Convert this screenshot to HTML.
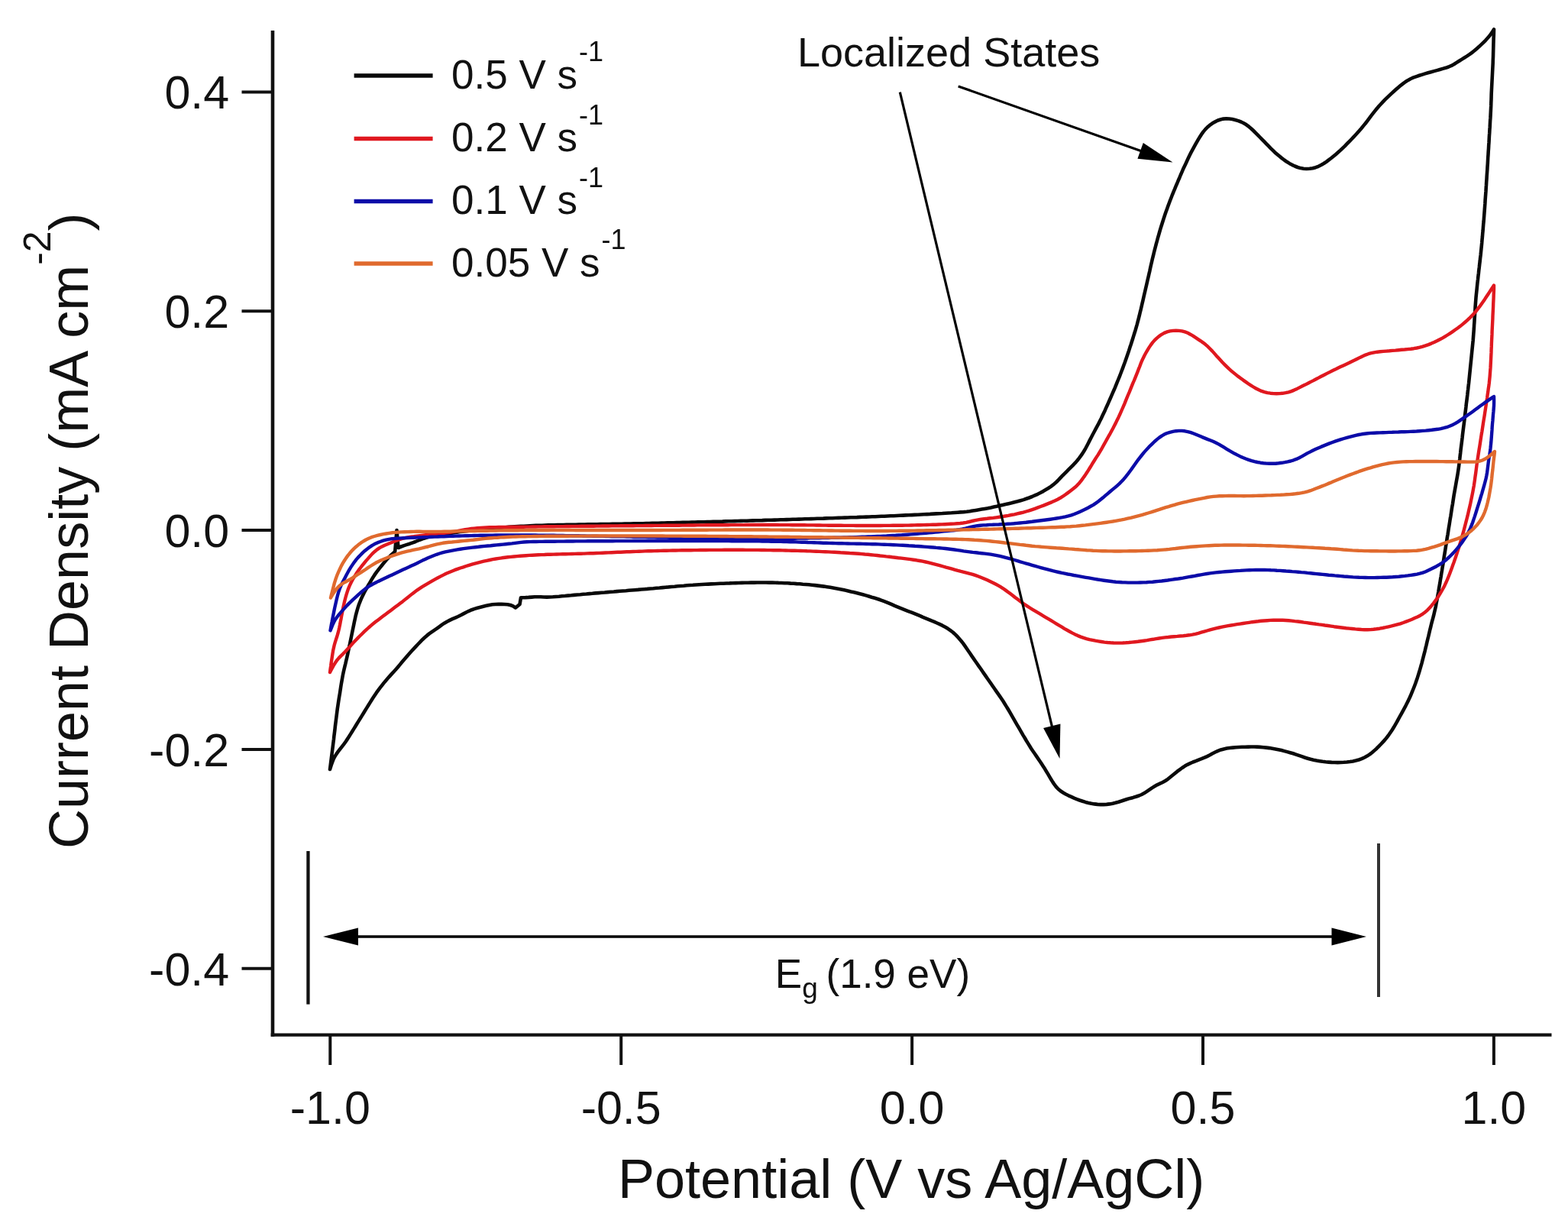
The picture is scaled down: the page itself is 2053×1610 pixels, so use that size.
<!DOCTYPE html>
<html><head><meta charset="utf-8"><title>Cyclic voltammetry</title>
<style>html,body{margin:0;padding:0;background:#fff;overflow:hidden}svg{display:block}</style>
</head><body>
<svg width="2053" height="1610" viewBox="0 0 2053 1610"><rect width="2053" height="1610" fill="#fff"/><path d="M432.0 1007.0 432.5 1003.0 433.0 999.1 433.5 995.1 434.0 991.1 434.5 987.2 435.0 983.2 435.5 979.2 436.0 975.2 436.5 971.3 437.0 967.3 437.4 963.3 437.9 959.4 438.4 955.4 438.8 951.4 439.3 947.4 439.8 943.5 440.3 939.5 440.8 935.5 441.3 931.6 441.8 927.6 442.4 923.6 443.0 919.7 443.6 915.7 444.2 911.8 444.9 907.8 445.5 903.9 446.1 899.9 446.7 896.0 447.4 892.0 448.1 888.1 448.8 884.1 449.6 880.2 450.5 876.3 451.4 872.4 452.4 868.5 453.3 864.6 454.2 860.8 455.1 856.8 455.9 852.9 456.7 849.0 457.6 845.1 458.4 841.2 459.2 837.3 460.0 833.4 460.8 829.4 461.6 825.5 462.4 821.6 463.2 817.7 464.0 813.8 464.9 809.8 465.7 805.9 466.7 802.1 467.8 798.2 468.9 794.4 470.2 790.6 471.7 786.9 473.2 783.2 474.9 779.6 476.7 776.0 478.6 772.5 480.6 769.0 482.6 765.5 484.6 762.1 486.6 758.6 488.7 755.2 490.9 751.9 493.2 748.6 495.7 745.4 498.1 742.3 500.6 739.2 503.2 736.1 505.8 733.1 508.5 730.1 511.3 727.3 514.2 724.6 517.2 721.9 L517.2 721.9 519.5 694.0 L519.5 694.0 521.5 717.0 L521.5 717.0 525.2 715.5 529.0 714.1 532.8 712.9 536.6 711.7 540.3 710.4 544.0 709.0 547.6 707.5 551.3 706.0 555.0 704.7 558.8 703.5 562.7 702.4 566.6 701.5 570.5 700.7 574.4 700.1 578.4 699.5 582.4 699.0 586.3 698.5 590.3 697.9 594.2 697.3 598.2 696.7 602.2 696.1 606.1 695.6 610.1 695.1 614.1 694.6 618.0 694.2 622.0 693.8 626.0 693.4 630.0 693.0 634.0 692.6 638.0 692.3 641.9 691.9 645.9 691.5 649.9 691.2 653.9 690.8 657.9 690.5 661.9 690.2 665.9 689.9 669.9 689.6 673.9 689.3 677.9 689.1 681.8 688.9 685.8 688.7 689.8 688.5 693.8 688.3 697.8 688.1 701.8 687.9 705.8 687.8 709.8 687.7 713.8 687.5 717.8 687.4 721.8 687.3 725.8 687.2 729.8 687.1 733.8 687.0 737.8 687.0 741.8 686.9 745.8 686.8 749.8 686.7 753.8 686.7 757.8 686.6 761.8 686.5 765.8 686.5 769.8 686.4 773.8 686.3 777.8 686.3 781.8 686.2 785.9 686.1 789.9 686.1 793.9 686.0 797.9 686.0 801.9 685.9 805.9 685.8 809.9 685.8 813.9 685.7 817.9 685.6 821.9 685.6 825.9 685.5 829.9 685.4 833.9 685.3 837.9 685.3 841.9 685.2 845.9 685.1 849.9 685.0 853.9 684.9 857.9 684.8 861.9 684.7 865.9 684.6 869.9 684.5 873.9 684.4 877.9 684.3 881.9 684.2 885.9 684.1 889.9 684.0 893.9 683.9 897.9 683.8 901.9 683.7 905.9 683.6 909.9 683.5 913.9 683.4 917.9 683.3 921.9 683.2 925.9 683.1 929.9 683.0 933.9 682.9 937.9 682.8 941.9 682.7 945.9 682.6 949.9 682.4 953.9 682.3 957.9 682.2 961.9 682.1 965.9 682.0 969.9 681.9 973.9 681.8 977.9 681.7 981.9 681.5 985.9 681.4 989.9 681.3 993.9 681.2 997.9 681.1 1001.9 680.9 1005.9 680.8 1009.9 680.7 1013.9 680.6 1017.9 680.5 1021.9 680.3 1025.9 680.2 1029.9 680.1 1033.9 680.0 1037.9 679.8 1041.9 679.7 1045.9 679.6 1049.9 679.5 1053.9 679.3 1057.9 679.2 1061.9 679.1 1065.9 679.0 1069.9 678.8 1073.9 678.7 1077.9 678.6 1081.9 678.4 1085.9 678.3 1089.9 678.2 1093.9 678.0 1097.9 677.9 1101.9 677.8 1105.9 677.6 1109.9 677.5 1113.9 677.3 1117.9 677.2 1121.9 677.1 1125.9 676.9 1129.9 676.8 1133.9 676.6 1137.9 676.5 1141.9 676.3 1145.9 676.2 1149.9 676.0 1153.9 675.8 1157.9 675.7 1161.9 675.5 1165.9 675.3 1169.9 675.2 1173.9 675.0 1177.9 674.8 1181.9 674.6 1185.9 674.4 1189.8 674.3 1193.8 674.1 1197.8 673.9 1201.8 673.7 1205.8 673.5 1209.8 673.3 1213.8 673.1 1217.8 672.9 1221.8 672.6 1225.8 672.4 1229.8 672.2 1233.8 672.0 1237.8 671.7 1241.8 671.5 1245.8 671.3 1249.8 671.0 1253.8 670.7 1257.8 670.4 1261.8 670.1 1265.7 669.7 1269.7 669.2 1273.7 668.6 1277.6 668.0 1281.6 667.3 1285.5 666.6 1289.4 665.9 1293.4 665.2 1297.3 664.4 1301.2 663.5 1305.1 662.7 1309.0 661.8 1312.9 660.9 1316.8 660.1 1320.7 659.2 1324.6 658.3 1328.5 657.3 1332.4 656.3 1336.2 655.2 1340.1 654.1 1343.9 652.8 1347.6 651.5 1351.4 650.0 1355.0 648.4 1358.7 646.8 1362.2 645.0 1365.8 643.1 1369.2 641.1 1372.6 639.0 1375.9 636.8 1379.1 634.4 1382.2 631.8 1385.1 629.0 1387.8 626.1 1390.6 623.2 1393.4 620.4 1396.2 617.6 1399.1 614.7 1401.9 611.9 1404.7 609.1 1407.5 606.2 1410.1 603.2 1412.6 600.1 1415.0 596.9 1417.3 593.6 1419.4 590.2 1421.4 586.8 1423.3 583.2 1425.1 579.7 1426.9 576.1 1428.8 572.5 1430.6 569.0 1432.5 565.5 1434.4 561.9 1436.3 558.4 1438.2 554.9 1440.0 551.3 1441.8 547.7 1443.5 544.1 1445.2 540.5 1446.9 536.9 1448.5 533.2 1450.2 529.6 1451.8 525.9 1453.4 522.3 1455.0 518.6 1456.6 514.9 1458.2 511.3 1459.8 507.6 1461.3 503.9 1462.8 500.2 1464.3 496.5 1465.8 492.8 1467.3 489.0 1468.7 485.3 1470.1 481.6 1471.5 477.8 1472.9 474.0 1474.2 470.2 1475.5 466.5 1476.8 462.7 1478.1 458.9 1479.3 455.1 1480.6 451.3 1481.8 447.5 1483.0 443.7 1484.2 439.9 1485.4 436.0 1486.6 432.2 1487.7 428.4 1488.8 424.5 1489.8 420.6 1490.8 416.8 1491.8 412.9 1492.7 409.0 1493.7 405.1 1494.6 401.2 1495.5 397.3 1496.4 393.4 1497.3 389.5 1498.2 385.6 1499.1 381.7 1500.0 377.8 1500.9 373.9 1501.8 370.0 1502.7 366.1 1503.6 362.2 1504.5 358.3 1505.4 354.4 1506.2 350.5 1507.1 346.6 1508.0 342.7 1508.9 338.8 1509.9 334.9 1510.8 331.0 1511.8 327.2 1512.8 323.3 1513.8 319.4 1514.9 315.5 1515.9 311.7 1517.0 307.8 1518.1 304.0 1519.2 300.2 1520.4 296.3 1521.6 292.5 1522.8 288.7 1524.0 284.9 1525.3 281.1 1526.6 277.3 1528.0 273.5 1529.3 269.8 1530.7 266.0 1532.1 262.3 1533.6 258.5 1535.0 254.8 1536.5 251.1 1538.1 247.4 1539.6 243.7 1541.2 240.0 1542.7 236.3 1544.3 232.7 1545.8 229.0 1547.4 225.3 1549.0 221.6 1550.7 218.0 1552.4 214.4 1554.1 210.7 1555.8 207.1 1557.5 203.5 1559.3 199.9 1561.2 196.4 1563.1 192.9 1565.0 189.4 1567.0 185.9 1569.0 182.4 1571.1 179.0 1573.2 175.7 1575.6 172.4 1578.1 169.4 1580.9 166.5 1583.9 163.9 1587.2 161.6 1590.6 159.6 1594.1 157.8 1597.9 156.5 1601.7 155.6 1605.6 155.3 1609.6 155.5 1613.5 156.1 1617.4 157.0 1621.2 158.1 1624.9 159.5 1628.5 161.3 1631.9 163.3 1635.1 165.7 1638.1 168.2 1641.1 171.0 1643.9 173.8 1646.7 176.6 1649.5 179.5 1652.3 182.3 1655.1 185.2 1657.9 188.1 1660.7 190.9 1663.5 193.8 1666.4 196.6 1669.2 199.4 1672.2 202.0 1675.3 204.6 1678.4 207.1 1681.6 209.5 1684.9 211.8 1688.3 213.9 1691.8 215.8 1695.4 217.5 1699.1 219.0 1702.9 220.1 1706.8 220.7 1710.7 221.0 1714.7 220.8 1718.6 220.2 1722.5 219.2 1726.2 217.8 1729.7 216.0 1733.2 214.0 1736.5 211.8 1739.7 209.4 1742.9 207.0 1746.0 204.5 1749.1 201.9 1752.1 199.3 1755.1 196.6 1758.0 193.8 1760.9 191.1 1763.7 188.2 1766.5 185.4 1769.3 182.5 1772.0 179.6 1774.7 176.7 1777.4 173.7 1780.1 170.7 1782.7 167.7 1785.2 164.6 1787.8 161.5 1790.2 158.3 1792.6 155.1 1795.0 151.9 1797.5 148.7 1799.9 145.6 1802.4 142.5 1805.0 139.4 1807.7 136.5 1810.4 133.6 1813.2 130.7 1816.1 127.9 1819.0 125.1 1821.9 122.4 1824.8 119.7 1827.8 117.0 1830.8 114.4 1833.9 111.8 1837.1 109.4 1840.3 107.0 1843.7 104.9 1847.2 103.0 1850.8 101.4 1854.6 100.1 1858.4 98.8 1862.2 97.6 1866.0 96.4 1869.8 95.3 1873.7 94.2 1877.6 93.1 1881.4 92.1 1885.3 91.0 1889.1 89.9 1893.0 88.8 1896.7 87.5 1900.4 85.9 1903.9 84.0 1907.2 81.9 1910.6 79.7 1914.0 77.6 1917.4 75.5 1920.8 73.4 1924.1 71.2 1927.3 68.8 1930.5 66.3 1933.5 63.7 1936.5 61.1 1939.4 58.4 1942.3 55.6 1945.1 52.8 1947.8 49.8 1950.4 46.8 1952.7 43.5 1954.9 40.2 1956.0 38.5 L1956.0 38.5 1955.9 42.5 1955.8 46.5 1955.6 50.5 1955.5 54.5 1955.4 58.5 1955.3 62.5 1955.2 66.5 1955.1 70.5 1955.0 74.5 1954.8 78.5 1954.7 82.5 1954.5 86.5 1954.3 90.5 1954.1 94.5 1953.9 98.5 1953.7 102.5 1953.5 106.5 1953.3 110.4 1953.1 114.4 1952.9 118.4 1952.7 122.4 1952.6 126.4 1952.5 130.4 1952.3 134.4 1952.2 138.4 1952.0 142.4 1951.8 146.4 1951.6 150.4 1951.4 154.4 1951.1 158.4 1950.9 162.4 1950.7 166.4 1950.4 170.4 1950.2 174.4 1949.9 178.4 1949.7 182.4 1949.5 186.4 1949.2 190.3 1949.0 194.3 1948.7 198.3 1948.5 202.3 1948.2 206.3 1948.0 210.3 1947.8 214.3 1947.5 218.3 1947.3 222.3 1947.0 226.3 1946.7 230.3 1946.5 234.3 1946.2 238.3 1946.0 242.2 1945.7 246.2 1945.5 250.2 1945.2 254.2 1944.9 258.2 1944.6 262.2 1944.4 266.2 1944.1 270.2 1943.8 274.2 1943.5 278.2 1943.2 282.2 1942.9 286.1 1942.6 290.1 1942.2 294.1 1941.9 298.1 1941.6 302.1 1941.2 306.1 1940.9 310.1 1940.5 314.0 1940.2 318.0 1939.8 322.0 1939.4 326.0 1939.0 330.0 1938.6 334.0 1938.1 337.9 1937.7 341.9 1937.2 345.9 1936.8 349.8 1936.3 353.8 1935.9 357.8 1935.4 361.8 1935.0 365.7 1934.5 369.7 1934.1 373.7 1933.7 377.7 1933.3 381.7 1932.9 385.6 1932.5 389.6 1932.2 393.6 1931.9 397.6 1931.6 401.6 1931.4 405.6 1931.1 409.6 1930.9 413.6 1930.6 417.6 1930.4 421.6 1930.1 425.5 1929.9 429.5 1929.6 433.5 1929.3 437.5 1929.0 441.5 1928.7 445.5 1928.3 449.5 1927.9 453.5 1927.5 457.4 1927.1 461.4 1926.7 465.4 1926.3 469.4 1925.9 473.4 1925.5 477.3 1925.1 481.3 1924.7 485.3 1924.3 489.3 1923.9 493.3 1923.5 497.2 1923.1 501.2 1922.6 505.2 1922.2 509.2 1921.7 513.1 1921.3 517.1 1920.8 521.1 1920.3 525.1 1919.8 529.0 1919.4 533.0 1918.9 537.0 1918.4 540.9 1917.9 544.9 1917.5 548.9 1917.0 552.9 1916.5 556.8 1916.0 560.8 1915.5 564.8 1915.0 568.7 1914.6 572.7 1914.1 576.7 1913.6 580.7 1913.1 584.6 1912.6 588.6 1912.2 592.6 1911.7 596.6 1911.3 600.5 1910.8 604.5 1910.3 608.5 1909.8 612.4 1909.2 616.4 1908.6 620.3 1907.9 624.3 1907.2 628.2 1906.5 632.2 1905.8 636.1 1905.1 640.0 1904.4 644.0 1903.7 647.9 1903.1 651.9 1902.5 655.8 1901.9 659.8 1901.2 663.7 1900.6 667.7 1900.0 671.6 1899.4 675.6 1898.7 679.5 1898.1 683.5 1897.5 687.4 1896.8 691.4 1896.2 695.3 1895.6 699.3 1894.9 703.2 1894.3 707.2 1893.7 711.1 1893.0 715.1 1892.4 719.0 1891.8 723.0 1891.1 726.9 1890.5 730.9 1889.9 734.8 1889.3 738.8 1888.6 742.7 1888.0 746.7 1887.3 750.6 1886.7 754.6 1886.0 758.5 1885.4 762.5 1884.7 766.4 1884.0 770.3 1883.4 774.3 1882.7 778.2 1882.0 782.2 1881.3 786.1 1880.5 790.0 1879.8 794.0 1878.9 797.9 1878.0 801.8 1877.1 805.7 1876.1 809.5 1875.0 813.4 1874.0 817.3 1873.1 821.1 1872.1 825.0 1871.2 828.9 1870.3 832.8 1869.3 836.7 1868.4 840.6 1867.5 844.5 1866.5 848.4 1865.6 852.3 1864.6 856.1 1863.6 860.0 1862.6 863.9 1861.6 867.8 1860.5 871.6 1859.4 875.5 1858.3 879.3 1857.1 883.1 1855.9 886.9 1854.6 890.7 1853.3 894.5 1851.9 898.2 1850.4 902.0 1848.9 905.7 1847.4 909.3 1845.8 913.0 1844.1 916.6 1842.3 920.2 1840.5 923.8 1838.6 927.3 1836.7 930.8 1834.8 934.3 1832.8 937.8 1830.9 941.3 1829.0 944.9 1827.0 948.3 1825.0 951.8 1822.9 955.2 1820.7 958.5 1818.4 961.8 1816.0 965.0 1813.5 968.1 1810.8 971.1 1808.1 974.0 1805.3 976.9 1802.5 979.7 1799.5 982.4 1796.5 985.0 1793.4 987.4 1790.0 989.6 1786.5 991.5 1782.9 993.2 1779.2 994.5 1775.3 995.5 1771.4 996.4 1767.5 997.0 1763.5 997.5 1759.5 997.8 1755.5 998.0 1751.5 998.1 1747.5 998.0 1743.5 997.9 1739.6 997.6 1735.6 997.3 1731.6 996.8 1727.7 996.2 1723.7 995.5 1719.8 994.7 1715.9 993.8 1712.1 992.7 1708.2 991.5 1704.5 990.2 1700.7 988.9 1696.9 987.6 1693.1 986.3 1689.3 985.2 1685.4 984.1 1681.6 983.1 1677.7 982.1 1673.8 981.2 1669.9 980.4 1665.9 979.7 1662.0 979.1 1658.0 978.6 1654.0 978.2 1650.1 977.9 1646.1 977.6 1642.1 977.5 1638.1 977.5 1634.1 977.6 1630.1 977.7 1626.1 977.8 1622.1 978.0 1618.1 978.3 1614.1 978.6 1610.1 979.0 1606.2 979.6 1602.3 980.4 1598.4 981.4 1594.7 982.8 1591.1 984.5 1587.6 986.3 1584.1 988.3 1580.5 990.1 1576.9 991.7 1573.2 993.2 1569.4 994.6 1565.7 996.1 1562.0 997.5 1558.3 999.1 1554.7 1000.8 1551.2 1002.8 1547.9 1005.0 1544.7 1007.3 1541.5 1009.7 1538.4 1012.3 1535.3 1014.8 1532.2 1017.3 1529.1 1019.8 1525.8 1022.0 1522.3 1024.0 1518.7 1025.7 1515.1 1027.3 1511.7 1029.3 1508.3 1031.4 1505.0 1033.7 1501.7 1035.9 1498.3 1038.1 1494.8 1040.0 1491.2 1041.5 1487.4 1042.8 1483.6 1043.9 1479.7 1044.9 1475.9 1046.0 1472.1 1047.2 1468.3 1048.5 1464.5 1049.7 1460.6 1050.8 1456.8 1051.7 1452.8 1052.4 1448.9 1052.9 1444.9 1053.1 1440.9 1053.1 1436.9 1052.9 1432.9 1052.4 1429.0 1051.8 1425.1 1050.9 1421.2 1049.9 1417.4 1048.7 1413.6 1047.5 1409.9 1046.1 1406.2 1044.6 1402.5 1042.9 1398.9 1041.3 1395.3 1039.5 1391.9 1037.5 1388.5 1035.3 1385.5 1032.8 1382.8 1029.9 1380.4 1026.7 1378.2 1023.4 1376.1 1020.0 1374.1 1016.6 1372.1 1013.1 1370.0 1009.7 1368.0 1006.3 1365.8 1002.9 1363.6 999.5 1361.4 996.2 1359.1 992.9 1356.9 989.6 1354.6 986.3 1352.3 983.0 1350.1 979.7 1348.0 976.3 1345.9 972.9 1343.8 969.5 1341.8 966.0 1339.7 962.6 1337.7 959.1 1335.7 955.7 1333.7 952.2 1331.7 948.8 1329.7 945.3 1327.7 941.8 1325.7 938.4 1323.7 934.9 1321.7 931.4 1319.7 928.0 1317.6 924.6 1315.5 921.2 1313.4 917.8 1311.2 914.5 1308.9 911.1 1306.6 907.9 1304.3 904.6 1302.0 901.3 1299.7 898.0 1297.5 894.8 1295.2 891.5 1292.9 888.2 1290.6 884.9 1288.3 881.6 1286.0 878.3 1283.8 875.0 1281.5 871.8 1279.2 868.5 1276.9 865.2 1274.6 861.9 1272.3 858.6 1270.1 855.3 1267.8 852.0 1265.6 848.7 1263.3 845.4 1261.0 842.2 1258.5 839.0 1255.9 836.0 1253.3 833.0 1250.4 830.2 1247.5 827.5 1244.3 825.1 1241.0 822.8 1237.6 820.8 1234.1 818.9 1230.5 817.2 1226.8 815.5 1223.2 813.9 1219.5 812.4 1215.8 810.8 1212.1 809.3 1208.4 807.8 1204.7 806.2 1201.0 804.7 1197.3 803.2 1193.6 801.7 1189.9 800.3 1186.1 798.8 1182.4 797.3 1178.7 795.8 1175.0 794.3 1171.3 792.8 1167.6 791.2 1164.0 789.6 1160.3 788.1 1156.5 786.7 1152.8 785.3 1149.0 784.0 1145.2 782.8 1141.3 781.7 1137.5 780.5 1133.7 779.4 1129.8 778.3 1125.9 777.3 1122.1 776.3 1118.2 775.3 1114.3 774.4 1110.4 773.4 1106.5 772.6 1102.6 771.7 1098.7 770.9 1094.7 770.2 1090.8 769.5 1086.9 768.8 1082.9 768.2 1079.0 767.6 1075.0 767.1 1071.0 766.6 1067.1 766.1 1063.1 765.7 1059.1 765.3 1055.1 765.0 1051.1 764.7 1047.1 764.3 1043.1 764.1 1039.2 763.8 1035.2 763.6 1031.2 763.3 1027.2 763.2 1023.2 763.0 1019.2 762.9 1015.2 762.7 1011.2 762.6 1007.2 762.6 1003.2 762.5 999.2 762.5 995.2 762.5 991.2 762.5 987.2 762.6 983.2 762.6 979.2 762.7 975.2 762.8 971.2 762.9 967.2 763.0 963.2 763.1 959.2 763.2 955.2 763.4 951.2 763.5 947.2 763.7 943.2 763.8 939.2 764.0 935.2 764.2 931.2 764.4 927.2 764.6 923.2 764.8 919.2 765.0 915.2 765.2 911.2 765.5 907.2 765.8 903.3 766.0 899.3 766.3 895.3 766.7 891.3 767.0 887.3 767.3 883.3 767.7 879.3 768.0 875.4 768.4 871.4 768.7 867.4 769.1 863.4 769.5 859.4 769.8 855.4 770.2 851.4 770.5 847.5 770.9 843.5 771.2 839.5 771.5 835.5 771.9 831.5 772.2 827.5 772.5 823.5 772.8 819.6 773.2 815.6 773.5 811.6 773.8 807.6 774.1 803.6 774.5 799.6 774.8 795.6 775.1 791.6 775.5 787.7 775.8 783.7 776.1 779.7 776.4 775.7 776.8 771.7 777.1 767.7 777.5 763.7 777.8 759.8 778.2 755.8 778.5 751.8 778.9 747.8 779.3 743.8 779.6 739.8 780.0 735.9 780.3 731.9 780.7 727.9 781.0 723.9 781.3 719.9 781.5 715.9 781.6 711.9 781.5 707.9 781.3 704.0 781.2 700.0 781.3 696.0 781.6 692.0 781.9 688.0 782.1 684.0 782.2 682.0 782.2 L682.0 782.2 680.5 791.0 L680.5 791.0 675.0 795.5 L675.0 795.5 671.8 793.4 668.3 792.0 664.5 791.3 660.5 791.0 656.6 790.9 652.6 790.9 648.6 791.0 644.6 791.3 640.7 791.9 636.8 792.8 632.9 793.7 629.1 794.7 625.2 795.7 621.4 796.9 617.6 798.2 613.9 799.8 610.4 801.5 606.8 803.4 603.3 805.2 599.7 807.0 596.1 808.6 592.4 810.2 588.8 811.9 585.2 813.7 581.8 815.7 578.5 817.9 575.2 820.3 572.0 822.6 568.7 824.8 565.4 827.1 562.1 829.4 559.0 831.9 556.0 834.5 553.1 837.2 550.3 840.1 547.5 843.0 544.8 845.9 542.0 848.8 539.3 851.7 536.6 854.7 534.0 857.7 531.4 860.7 528.8 863.7 526.2 866.8 523.7 869.9 521.1 873.0 518.5 876.0 515.8 879.0 513.1 881.9 510.4 884.9 507.8 887.8 505.1 890.9 502.6 893.9 500.1 897.1 497.7 900.2 495.3 903.4 492.9 906.7 490.7 910.0 488.5 913.3 486.3 916.7 484.2 920.1 482.1 923.5 480.0 926.9 477.9 930.3 475.8 933.7 473.7 937.1 471.6 940.5 469.5 943.9 467.4 947.3 465.3 950.7 463.2 954.1 461.1 957.5 459.0 960.9 456.9 964.3 454.7 967.6 452.5 971.0 450.2 974.2 447.7 977.4 445.2 980.5 442.8 983.6 440.5 986.9 438.4 990.3 436.6 993.8 435.2 997.5 433.8 1001.3 432.6 1005.1 432.0 1007.0" fill="none" stroke="#0a0a0a" stroke-width="4.6" stroke-linejoin="round" stroke-linecap="round"/><path d="M432.0 880.0 432.5 876.0 433.1 872.1 433.6 868.1 434.2 864.1 434.8 860.2 435.4 856.2 436.0 852.3 436.8 848.4 437.7 844.5 438.8 840.6 440.0 836.8 441.3 833.0 442.4 829.2 443.4 825.3 444.3 821.4 445.1 817.5 445.8 813.6 446.6 809.7 447.3 805.7 448.1 801.8 448.8 797.9 449.6 793.9 450.5 790.0 451.4 786.1 452.4 782.3 453.5 778.4 454.7 774.6 456.0 770.8 457.5 767.1 459.2 763.5 461.0 760.0 463.0 756.5 465.1 753.1 467.2 749.7 469.5 746.4 471.9 743.2 474.3 740.1 476.9 737.0 479.4 733.9 482.1 730.9 484.7 727.9 487.4 724.9 490.3 722.2 493.4 719.6 496.6 717.4 500.1 715.4 503.7 713.7 507.4 712.2 511.1 710.8 514.8 709.3 518.6 707.8 522.3 706.4 526.1 705.2 529.9 704.2 533.9 703.4 537.8 702.7 541.8 702.2 545.7 701.6 549.7 701.1 553.7 700.6 557.6 700.1 561.6 699.7 565.6 699.3 569.6 698.9 573.6 698.5 577.5 698.1 581.5 697.7 585.5 697.3 589.5 696.7 593.4 696.1 597.3 695.4 601.3 694.6 605.2 693.9 609.1 693.2 613.1 692.6 617.1 692.0 621.0 691.6 625.0 691.2 629.0 690.9 633.0 690.7 637.0 690.5 641.0 690.3 645.0 690.2 649.0 690.1 653.0 690.0 657.0 690.0 661.0 689.9 665.0 689.9 669.0 689.8 673.0 689.8 677.0 689.8 681.0 689.7 685.0 689.7 689.0 689.6 693.0 689.6 697.0 689.5 701.0 689.5 705.0 689.4 709.0 689.4 713.0 689.3 717.0 689.3 721.0 689.2 725.0 689.2 729.0 689.1 733.0 689.1 737.0 689.1 741.0 689.0 745.0 689.0 749.0 688.9 753.0 688.9 757.0 688.9 761.0 688.8 765.0 688.8 769.0 688.7 773.0 688.7 777.0 688.7 781.0 688.6 785.0 688.6 789.0 688.5 793.0 688.5 797.0 688.5 801.0 688.4 805.0 688.4 809.0 688.4 813.0 688.3 817.0 688.3 821.0 688.2 825.0 688.2 829.0 688.2 833.0 688.1 837.0 688.1 841.1 688.1 845.1 688.0 849.1 688.0 853.1 688.0 857.1 687.9 861.1 687.9 865.1 687.9 869.1 687.8 873.1 687.8 877.1 687.8 881.1 687.7 885.1 687.7 889.1 687.7 893.1 687.6 897.1 687.6 901.1 687.5 905.1 687.5 909.1 687.5 913.1 687.4 917.1 687.4 921.1 687.4 925.1 687.3 929.1 687.3 933.1 687.3 937.1 687.3 941.1 687.2 945.1 687.2 949.1 687.2 953.1 687.2 957.1 687.1 961.1 687.1 965.1 687.1 969.1 687.1 973.1 687.1 977.1 687.0 981.1 687.0 985.1 687.0 989.1 687.0 993.1 687.0 997.1 687.0 1001.1 687.0 1005.1 687.0 1009.1 687.0 1013.1 687.0 1017.1 687.0 1021.1 687.1 1025.1 687.1 1029.1 687.1 1033.1 687.1 1037.1 687.2 1041.1 687.2 1045.1 687.2 1049.1 687.3 1053.1 687.3 1057.1 687.4 1061.1 687.4 1065.1 687.4 1069.1 687.5 1073.1 687.5 1077.1 687.6 1081.1 687.6 1085.1 687.7 1089.1 687.7 1093.1 687.7 1097.1 687.8 1101.1 687.8 1105.1 687.9 1109.1 687.9 1113.1 687.9 1117.1 687.9 1121.1 688.0 1125.1 688.0 1129.1 688.0 1133.1 688.0 1137.1 688.0 1141.1 688.0 1145.1 688.0 1149.1 688.0 1153.1 688.0 1157.2 687.9 1161.2 687.9 1165.2 687.9 1169.2 687.8 1173.2 687.8 1177.2 687.7 1181.2 687.7 1185.2 687.6 1189.2 687.6 1193.2 687.5 1197.2 687.4 1201.2 687.3 1205.2 687.2 1209.2 687.1 1213.2 687.0 1217.2 686.9 1221.2 686.8 1225.2 686.7 1229.2 686.5 1233.2 686.4 1237.2 686.2 1241.2 686.0 1245.1 685.8 1249.1 685.6 1253.1 685.3 1257.1 685.0 1261.1 684.5 1265.0 683.8 1268.9 683.0 1272.8 682.0 1276.7 681.1 1280.6 680.4 1284.6 679.7 1288.5 679.2 1292.5 678.8 1296.5 678.3 1300.5 677.9 1304.4 677.4 1308.4 676.8 1312.3 676.2 1316.3 675.5 1320.2 674.8 1324.1 674.0 1328.1 673.3 1332.0 672.4 1335.9 671.5 1339.8 670.6 1343.6 669.5 1347.5 668.4 1351.3 667.1 1355.0 665.8 1358.8 664.4 1362.5 663.0 1366.3 661.6 1370.0 660.1 1373.7 658.6 1377.4 657.1 1381.0 655.5 1384.7 653.7 1388.2 651.8 1391.6 649.7 1394.8 647.5 1398.1 645.1 1401.3 642.7 1404.5 640.3 1407.6 637.8 1410.5 635.1 1413.2 632.2 1415.7 629.1 1418.1 625.8 1420.4 622.6 1422.6 619.3 1424.8 615.9 1426.9 612.5 1429.0 609.1 1431.0 605.7 1433.2 602.3 1435.3 598.9 1437.5 595.6 1439.6 592.2 1441.7 588.7 1443.6 585.2 1445.6 581.7 1447.5 578.2 1449.5 574.7 1451.4 571.2 1453.4 567.8 1455.3 564.2 1457.2 560.7 1459.0 557.2 1460.9 553.6 1462.6 550.0 1464.4 546.4 1466.1 542.8 1467.7 539.2 1469.3 535.5 1470.9 531.8 1472.5 528.1 1474.0 524.4 1475.5 520.7 1477.0 517.0 1478.6 513.3 1480.1 509.6 1481.6 505.9 1483.1 502.2 1484.7 498.5 1486.2 494.8 1487.7 491.1 1489.2 487.4 1490.6 483.7 1492.1 480.0 1493.5 476.2 1495.0 472.5 1496.7 468.9 1498.5 465.3 1500.4 461.8 1502.4 458.3 1504.5 454.9 1506.7 451.6 1509.1 448.4 1511.7 445.4 1514.6 442.7 1517.6 440.1 1520.9 437.8 1524.3 435.9 1528.0 434.4 1531.8 433.4 1535.7 432.9 1539.7 432.7 1543.7 432.9 1547.6 433.4 1551.4 434.4 1555.1 435.8 1558.6 437.7 1562.0 439.7 1565.4 441.9 1568.7 444.1 1572.1 446.3 1575.3 448.6 1578.5 451.1 1581.5 453.7 1584.3 456.5 1587.1 459.4 1589.8 462.4 1592.4 465.4 1595.1 468.3 1597.8 471.3 1600.5 474.3 1603.3 477.1 1606.1 479.9 1609.0 482.7 1612.0 485.3 1615.1 487.9 1618.2 490.4 1621.4 492.9 1624.6 495.2 1627.8 497.6 1631.1 499.9 1634.4 502.2 1637.7 504.4 1641.1 506.5 1644.5 508.5 1648.1 510.3 1651.7 511.9 1655.5 513.1 1659.4 514.1 1663.3 514.7 1667.3 515.1 1671.3 515.2 1675.3 515.1 1679.3 514.8 1683.2 514.2 1687.1 513.3 1690.9 512.1 1694.5 510.6 1698.2 508.9 1701.7 507.1 1705.3 505.3 1708.9 503.6 1712.5 501.8 1716.0 499.9 1719.6 498.1 1723.1 496.2 1726.7 494.4 1730.2 492.5 1733.8 490.7 1737.3 488.9 1740.9 487.1 1744.5 485.3 1748.1 483.6 1751.7 481.8 1755.3 480.1 1758.9 478.4 1762.6 476.7 1766.2 475.0 1769.8 473.2 1773.4 471.5 1777.0 469.7 1780.6 467.9 1784.2 466.2 1787.8 464.6 1791.6 463.2 1795.4 462.2 1799.3 461.3 1803.2 460.7 1807.2 460.3 1811.2 459.9 1815.2 459.6 1819.2 459.3 1823.2 458.9 1827.1 458.6 1831.1 458.2 1835.1 457.8 1839.1 457.5 1843.1 457.1 1847.1 456.7 1851.0 456.2 1855.0 455.5 1858.9 454.7 1862.7 453.6 1866.5 452.4 1870.3 451.1 1874.0 449.6 1877.7 448.0 1881.3 446.3 1884.8 444.5 1888.4 442.6 1891.8 440.6 1895.2 438.5 1898.6 436.3 1901.9 434.1 1905.2 431.8 1908.5 429.5 1911.7 427.1 1914.8 424.6 1917.9 422.0 1920.9 419.4 1923.8 416.7 1926.6 413.9 1929.4 411.0 1932.0 408.0 1934.5 404.9 1937.0 401.7 1939.3 398.4 1941.6 395.2 1943.9 391.9 1946.1 388.5 1948.3 385.2 1950.5 381.9 1952.7 378.5 1954.9 375.2 1956.0 373.5 L1956.0 373.5 1956.0 377.5 1955.9 381.5 1955.7 385.5 1955.6 389.5 1955.4 393.5 1955.2 397.5 1955.1 401.5 1954.9 405.5 1954.7 409.5 1954.5 413.5 1954.4 417.5 1954.2 421.4 1954.0 425.4 1953.8 429.4 1953.6 433.4 1953.5 437.4 1953.3 441.4 1953.1 445.4 1952.9 449.4 1952.8 453.4 1952.6 457.4 1952.5 461.4 1952.3 465.4 1952.1 469.4 1951.9 473.4 1951.7 477.4 1951.5 481.4 1951.2 485.4 1950.9 489.3 1950.6 493.3 1950.2 497.3 1949.8 501.3 1949.3 505.2 1948.7 509.2 1948.2 513.2 1947.6 517.1 1947.1 521.1 1946.5 525.0 1945.9 529.0 1945.3 533.0 1944.7 536.9 1944.1 540.9 1943.5 544.8 1942.8 548.8 1942.2 552.7 1941.6 556.7 1941.0 560.6 1940.4 564.6 1939.7 568.5 1939.1 572.5 1938.5 576.4 1937.9 580.4 1937.3 584.3 1936.6 588.3 1936.0 592.2 1935.4 596.2 1934.8 600.1 1934.2 604.1 1933.6 608.0 1933.1 612.0 1932.6 616.0 1932.1 619.9 1931.5 623.9 1931.0 627.8 1930.4 631.8 1929.8 635.8 1929.1 639.7 1928.4 643.6 1927.6 647.6 1926.8 651.5 1926.0 655.4 1925.2 659.3 1924.3 663.2 1923.4 667.1 1922.5 671.0 1921.6 674.9 1920.6 678.8 1919.6 682.6 1918.6 686.5 1917.6 690.4 1916.6 694.2 1915.5 698.1 1914.4 701.9 1913.3 705.8 1912.2 709.6 1911.0 713.5 1909.9 717.3 1908.6 721.1 1907.4 724.9 1906.1 728.7 1904.8 732.4 1903.5 736.2 1902.1 740.0 1900.8 743.7 1899.4 747.5 1898.0 751.2 1896.5 755.0 1895.0 758.7 1893.4 762.3 1891.7 765.9 1889.9 769.5 1887.9 773.0 1885.9 776.4 1883.8 779.8 1881.6 783.2 1879.3 786.4 1876.9 789.6 1874.4 792.7 1871.7 795.7 1869.0 798.6 1866.0 801.2 1862.8 803.6 1859.4 805.7 1855.9 807.5 1852.2 809.1 1848.6 810.7 1844.8 812.2 1841.1 813.6 1837.4 815.0 1833.6 816.3 1829.7 817.4 1825.9 818.4 1822.0 819.4 1818.1 820.3 1814.2 821.2 1810.3 822.0 1806.4 822.7 1802.4 823.3 1798.4 823.8 1794.5 824.1 1790.5 824.2 1786.5 824.2 1782.5 824.0 1778.5 823.7 1774.5 823.4 1770.5 823.0 1766.6 822.6 1762.6 822.2 1758.6 821.7 1754.6 821.2 1750.7 820.7 1746.7 820.2 1742.8 819.6 1738.8 819.0 1734.8 818.5 1730.9 817.9 1726.9 817.4 1723.0 816.8 1719.0 816.3 1715.0 815.7 1711.1 815.1 1707.1 814.6 1703.2 814.0 1699.2 813.5 1695.2 813.1 1691.2 812.6 1687.3 812.3 1683.3 812.0 1679.3 811.8 1675.3 811.7 1671.3 811.6 1667.3 811.7 1663.3 811.9 1659.3 812.2 1655.3 812.5 1651.3 812.8 1647.4 813.3 1643.4 813.7 1639.4 814.2 1635.5 814.8 1631.5 815.4 1627.6 816.0 1623.6 816.6 1619.7 817.2 1615.7 817.9 1611.8 818.5 1607.8 819.2 1603.9 819.9 1600.0 820.7 1596.1 821.5 1592.2 822.4 1588.3 823.4 1584.4 824.4 1580.6 825.5 1576.7 826.6 1572.9 827.7 1569.1 828.8 1565.2 829.8 1561.3 830.6 1557.3 831.3 1553.4 831.8 1549.4 832.2 1545.4 832.5 1541.4 832.9 1537.4 833.2 1533.5 833.5 1529.5 834.0 1525.5 834.4 1521.6 834.9 1517.6 835.5 1513.6 836.1 1509.7 836.8 1505.7 837.4 1501.8 838.1 1497.8 838.7 1493.9 839.2 1489.9 839.8 1486.0 840.2 1482.0 840.6 1478.0 841.0 1474.0 841.3 1470.0 841.5 1466.0 841.6 1462.0 841.6 1458.0 841.5 1454.0 841.3 1450.1 841.0 1446.1 840.6 1442.1 840.0 1438.2 839.4 1434.2 838.7 1430.3 837.9 1426.4 837.1 1422.5 836.1 1418.7 834.9 1415.0 833.6 1411.3 832.1 1407.6 830.4 1404.1 828.6 1400.6 826.7 1397.1 824.8 1393.6 822.8 1390.2 820.7 1386.7 818.7 1383.3 816.6 1379.9 814.5 1376.5 812.4 1373.1 810.4 1369.6 808.3 1366.2 806.3 1362.7 804.2 1359.3 802.2 1355.9 800.2 1352.4 798.1 1349.0 796.0 1345.7 793.9 1342.3 791.7 1339.0 789.4 1335.8 787.0 1332.6 784.6 1329.4 782.2 1326.3 779.7 1323.1 777.3 1319.9 774.9 1316.7 772.6 1313.4 770.3 1310.0 768.2 1306.5 766.2 1303.0 764.3 1299.4 762.5 1295.8 760.8 1292.2 759.1 1288.5 757.5 1284.9 756.0 1281.1 754.5 1277.4 753.2 1273.6 751.9 1269.7 750.8 1265.9 749.8 1262.0 748.8 1258.1 747.9 1254.2 746.9 1250.4 745.8 1246.5 744.7 1242.7 743.6 1238.8 742.6 1235.0 741.5 1231.1 740.4 1227.3 739.3 1223.4 738.3 1219.5 737.3 1215.7 736.4 1211.8 735.5 1207.8 734.7 1203.9 734.0 1200.0 733.3 1196.0 732.7 1192.1 732.1 1188.1 731.6 1184.1 731.1 1180.2 730.6 1176.2 730.2 1172.2 729.7 1168.2 729.3 1164.3 728.8 1160.3 728.4 1156.3 727.9 1152.3 727.5 1148.4 727.0 1144.4 726.6 1140.4 726.2 1136.4 725.8 1132.4 725.5 1128.5 725.1 1124.5 724.8 1120.5 724.5 1116.5 724.2 1112.5 724.0 1108.5 723.7 1104.5 723.5 1100.5 723.3 1096.5 723.0 1092.5 722.8 1088.6 722.6 1084.6 722.4 1080.6 722.2 1076.6 722.1 1072.6 721.9 1068.6 721.7 1064.6 721.6 1060.6 721.4 1056.6 721.3 1052.6 721.1 1048.6 721.0 1044.6 720.9 1040.6 720.8 1036.6 720.7 1032.6 720.6 1028.6 720.5 1024.6 720.4 1020.6 720.3 1016.6 720.2 1012.6 720.2 1008.6 720.1 1004.6 720.1 1000.6 720.0 996.6 720.0 992.6 719.9 988.6 719.9 984.6 719.9 980.6 719.9 976.6 719.9 972.6 719.8 968.6 719.8 964.6 719.8 960.6 719.8 956.6 719.8 952.6 719.8 948.6 719.8 944.6 719.9 940.6 719.9 936.6 719.9 932.6 719.9 928.6 719.9 924.6 720.0 920.6 720.0 916.7 720.0 912.7 720.1 908.7 720.1 904.7 720.2 900.7 720.2 896.7 720.3 892.7 720.3 888.7 720.4 884.7 720.5 880.7 720.5 876.7 720.6 872.7 720.7 868.7 720.8 864.7 720.9 860.7 721.0 856.7 721.1 852.7 721.2 848.7 721.3 844.7 721.4 840.7 721.6 836.7 721.7 832.7 721.9 828.7 722.0 824.7 722.2 820.7 722.3 816.7 722.5 812.7 722.7 808.7 722.8 804.7 723.0 800.7 723.2 796.7 723.4 792.7 723.5 788.7 723.7 784.8 723.9 780.8 724.0 776.8 724.2 772.8 724.3 768.8 724.4 764.8 724.6 760.8 724.7 756.8 724.8 752.8 724.9 748.8 725.0 744.8 725.1 740.8 725.2 736.8 725.3 732.8 725.4 728.8 725.5 724.8 725.6 720.8 725.7 716.8 725.8 712.8 726.0 708.8 726.1 704.8 726.3 700.8 726.5 696.8 726.7 692.8 726.9 688.8 727.2 684.9 727.5 680.9 727.8 676.9 728.1 672.9 728.5 668.9 728.9 665.0 729.3 661.0 729.8 657.0 730.3 653.1 730.9 649.1 731.5 645.2 732.2 641.3 733.0 637.3 733.8 633.4 734.7 629.5 735.6 625.7 736.6 621.8 737.6 618.0 738.7 614.1 739.8 610.3 741.0 606.5 742.3 602.7 743.5 598.9 744.9 595.2 746.2 591.5 747.7 587.8 749.2 584.1 750.8 580.5 752.6 577.0 754.4 573.4 756.2 569.9 758.1 566.4 760.1 562.9 762.1 559.5 764.1 556.1 766.2 552.7 768.2 549.3 770.4 546.0 772.6 542.8 775.0 539.6 777.4 536.5 779.9 533.3 782.4 530.2 784.9 527.1 787.4 523.9 789.8 520.7 792.2 517.5 794.6 514.3 797.0 511.1 799.4 507.9 801.8 504.7 804.2 501.5 806.6 498.3 809.0 495.1 811.4 491.9 813.8 488.8 816.3 485.7 818.9 482.7 821.5 479.8 824.2 476.8 826.9 474.0 829.7 471.1 832.5 468.3 835.4 465.5 838.2 462.8 841.1 460.1 844.1 457.4 847.1 454.7 850.0 452.0 852.9 449.2 855.8 446.3 858.6 443.6 861.4 441.0 864.5 438.8 867.8 436.7 871.2 434.8 874.7 432.9 878.2 432.0 880.0" fill="none" stroke="#e0181f" stroke-width="4.4" stroke-linejoin="round" stroke-linecap="round"/><path d="M432.5 825.3 433.2 821.4 433.9 817.4 434.7 813.5 435.4 809.6 436.2 805.7 437.0 801.7 437.8 797.8 438.6 793.9 439.5 790.0 440.4 786.1 441.3 782.2 442.3 778.3 443.4 774.5 444.7 770.7 446.2 767.1 447.9 763.5 449.8 759.9 451.6 756.4 453.5 752.8 455.4 749.3 457.3 745.8 459.4 742.4 461.6 739.1 463.9 735.8 466.3 732.7 468.9 729.6 471.7 726.7 474.5 723.9 477.4 721.2 480.5 718.7 483.7 716.3 487.0 714.1 490.5 712.1 494.1 710.4 497.8 709.0 501.6 707.7 505.4 706.7 509.3 705.8 513.2 705.2 517.2 704.9 521.2 704.6 525.2 704.4 529.2 704.2 533.2 704.0 537.2 703.9 541.1 703.7 545.1 703.6 549.1 703.4 553.1 703.3 557.1 703.1 561.1 703.0 565.1 702.8 569.1 702.6 573.1 702.5 577.1 702.3 581.1 702.2 585.1 702.0 589.1 701.9 593.1 701.7 597.1 701.6 601.1 701.5 605.1 701.4 609.1 701.2 613.1 701.2 617.1 701.1 621.1 701.0 625.1 700.9 629.1 700.8 633.1 700.8 637.1 700.7 641.0 700.6 645.0 700.6 649.0 700.5 653.0 700.5 657.0 700.5 661.0 700.4 665.0 700.4 669.0 700.4 673.0 700.4 677.0 700.4 681.0 700.4 685.0 700.4 689.0 700.4 693.0 700.5 697.0 700.5 701.0 700.5 705.0 700.6 709.0 700.6 713.0 700.6 717.0 700.7 721.0 700.8 725.0 700.8 729.0 700.9 733.0 700.9 737.0 701.0 741.0 701.1 745.0 701.1 749.0 701.2 753.0 701.3 757.0 701.3 761.0 701.4 765.0 701.5 769.0 701.6 773.0 701.6 777.0 701.7 781.0 701.8 785.0 701.9 789.0 701.9 793.0 702.0 797.0 702.1 801.0 702.2 805.0 702.2 808.9 702.3 812.9 702.4 816.9 702.4 820.9 702.5 824.9 702.6 828.9 702.7 832.9 702.7 836.9 702.8 840.9 702.9 844.9 702.9 848.9 703.0 852.9 703.0 856.9 703.1 860.9 703.2 864.9 703.2 868.9 703.3 872.9 703.4 876.9 703.5 880.9 703.5 884.9 703.6 888.9 703.7 892.9 703.8 896.9 703.8 900.9 703.9 904.9 704.0 908.9 704.1 912.9 704.1 916.9 704.2 920.9 704.3 924.9 704.3 928.9 704.4 932.9 704.5 936.9 704.5 940.9 704.6 944.9 704.6 948.9 704.7 952.9 704.8 956.9 704.8 960.9 704.8 964.8 704.9 968.8 704.9 972.8 704.9 976.8 705.0 980.8 705.0 984.8 705.0 988.8 705.0 992.8 705.0 996.8 705.0 1000.8 705.0 1004.8 705.0 1008.8 705.0 1012.8 704.9 1016.8 704.9 1020.8 704.9 1024.8 704.8 1028.8 704.8 1032.8 704.8 1036.8 704.7 1040.8 704.7 1044.8 704.6 1048.8 704.6 1052.8 704.5 1056.8 704.5 1060.8 704.4 1064.8 704.4 1068.8 704.3 1072.8 704.2 1076.8 704.1 1080.8 704.1 1084.8 704.0 1088.8 703.9 1092.8 703.8 1096.8 703.7 1100.8 703.6 1104.8 703.5 1108.8 703.4 1112.8 703.3 1116.8 703.2 1120.8 703.1 1124.7 702.9 1128.7 702.8 1132.7 702.7 1136.7 702.5 1140.7 702.4 1144.7 702.2 1148.7 702.0 1152.7 701.9 1156.7 701.7 1160.7 701.5 1164.7 701.2 1168.7 701.0 1172.7 700.8 1176.7 700.5 1180.7 700.3 1184.6 700.0 1188.6 699.7 1192.6 699.4 1196.6 699.1 1200.6 698.8 1204.6 698.4 1208.6 698.1 1212.5 697.7 1216.5 697.4 1220.5 697.0 1224.5 696.6 1228.5 696.2 1232.4 695.8 1236.4 695.4 1240.4 695.0 1244.4 694.6 1248.3 694.2 1252.3 693.7 1256.3 693.1 1260.2 692.5 1264.1 691.7 1268.0 690.7 1271.9 689.7 1275.7 688.9 1279.7 688.2 1283.6 687.7 1287.6 687.4 1291.6 687.2 1295.6 686.9 1299.6 686.8 1303.6 686.6 1307.6 686.5 1311.6 686.3 1315.6 686.1 1319.6 685.8 1323.6 685.6 1327.5 685.3 1331.5 684.9 1335.5 684.5 1339.5 684.1 1343.5 683.7 1347.4 683.2 1351.4 682.8 1355.4 682.3 1359.3 681.8 1363.3 681.3 1367.3 680.8 1371.2 680.3 1375.2 679.7 1379.1 679.1 1383.1 678.5 1387.0 677.9 1391.0 677.2 1394.9 676.4 1398.8 675.4 1402.6 674.3 1406.4 673.0 1410.1 671.5 1413.7 669.9 1417.4 668.2 1421.0 666.5 1424.5 664.7 1428.0 662.8 1431.5 660.8 1434.8 658.6 1438.1 656.3 1441.2 653.8 1444.3 651.3 1447.3 648.7 1450.4 646.1 1453.4 643.5 1456.5 640.9 1459.6 638.4 1462.6 635.8 1465.6 633.1 1468.4 630.3 1471.1 627.4 1473.7 624.3 1476.2 621.2 1478.6 618.0 1481.0 614.8 1483.3 611.5 1485.6 608.3 1487.9 605.0 1490.2 601.8 1492.7 598.6 1495.2 595.5 1497.7 592.4 1500.4 589.4 1503.1 586.5 1505.8 583.6 1508.7 580.8 1511.6 578.0 1514.6 575.4 1517.7 572.9 1521.0 570.6 1524.4 568.6 1528.0 567.0 1531.8 565.8 1535.6 564.9 1539.6 564.2 1543.5 563.9 1547.5 563.9 1551.4 564.3 1555.3 565.1 1559.2 566.2 1562.9 567.5 1566.6 569.0 1570.3 570.5 1574.0 572.1 1577.7 573.6 1581.4 575.1 1585.1 576.5 1588.8 578.1 1592.4 579.8 1596.0 581.6 1599.4 583.7 1602.8 585.7 1606.2 587.8 1609.7 589.9 1613.1 591.8 1616.6 593.8 1620.2 595.6 1623.8 597.4 1627.4 599.0 1631.1 600.5 1634.8 601.9 1638.7 603.1 1642.5 604.1 1646.4 605.0 1650.3 605.7 1654.3 606.2 1658.3 606.6 1662.3 606.8 1666.2 606.8 1670.2 606.7 1674.2 606.3 1678.2 605.8 1682.1 605.2 1686.0 604.4 1689.9 603.5 1693.7 602.3 1697.4 600.9 1701.1 599.2 1704.6 597.4 1708.1 595.4 1711.5 593.4 1715.1 591.6 1718.7 589.8 1722.3 588.1 1725.9 586.5 1729.6 584.9 1733.3 583.4 1737.0 581.9 1740.7 580.4 1744.5 579.0 1748.2 577.7 1752.0 576.4 1755.8 575.1 1759.6 574.0 1763.5 572.8 1767.3 571.8 1771.2 570.8 1775.1 569.8 1779.0 569.0 1782.9 568.3 1786.9 567.7 1790.8 567.2 1794.8 566.9 1798.8 566.7 1802.8 566.5 1806.8 566.4 1810.8 566.2 1814.8 566.1 1818.8 565.9 1822.8 565.8 1826.8 565.6 1830.8 565.5 1834.8 565.3 1838.8 565.2 1842.8 565.1 1846.7 564.9 1850.7 564.7 1854.7 564.5 1858.7 564.2 1862.7 563.9 1866.7 563.6 1870.7 563.2 1874.6 562.8 1878.6 562.3 1882.6 561.8 1886.5 561.1 1890.4 560.2 1894.2 559.2 1898.0 557.8 1901.6 556.2 1905.2 554.4 1908.6 552.3 1911.9 550.1 1915.2 547.9 1918.5 545.6 1921.8 543.3 1925.1 541.0 1928.3 538.7 1931.5 536.3 1934.7 533.9 1937.9 531.5 1941.2 529.2 1944.5 526.9 1947.7 524.6 1951.0 522.4 1954.3 520.1 1956.0 519.0 L1956.0 519.0 1956.1 523.0 1956.1 527.0 1956.0 531.0 1955.7 535.0 1955.4 538.9 1955.0 542.9 1954.7 546.9 1954.4 550.9 1954.0 554.9 1953.7 558.9 1953.5 562.9 1953.2 566.9 1952.9 570.8 1952.6 574.8 1952.3 578.8 1951.9 582.8 1951.5 586.8 1951.0 590.7 1950.4 594.7 1949.7 598.6 1949.1 602.6 1948.6 606.5 1948.1 610.5 1947.6 614.5 1947.1 618.4 1946.4 622.4 1945.6 626.3 1944.6 630.2 1943.6 634.0 1942.5 637.9 1941.4 641.7 1940.3 645.6 1939.1 649.4 1938.0 653.2 1936.8 657.1 1935.6 660.9 1934.4 664.7 1933.2 668.5 1932.0 672.3 1930.8 676.1 1929.5 679.9 1928.2 683.7 1926.8 687.4 1925.3 691.1 1923.6 694.8 1921.8 698.3 1919.8 701.8 1917.6 705.1 1915.4 708.4 1913.0 711.6 1910.5 714.8 1908.0 717.9 1905.4 720.9 1902.7 723.9 1899.9 726.7 1897.1 729.5 1894.1 732.2 1891.0 734.7 1887.8 737.1 1884.4 739.2 1880.9 741.2 1877.4 743.0 1873.8 744.8 1870.2 746.5 1866.6 748.2 1862.9 749.6 1859.1 750.7 1855.3 751.6 1851.3 752.2 1847.4 752.8 1843.4 753.4 1839.4 753.9 1835.5 754.3 1831.5 754.7 1827.5 755.0 1823.5 755.3 1819.5 755.5 1815.5 755.7 1811.5 755.8 1807.5 755.9 1803.5 756.0 1799.5 756.1 1795.5 756.1 1791.5 756.1 1787.5 756.0 1783.5 755.9 1779.5 755.8 1775.5 755.6 1771.5 755.4 1767.6 755.1 1763.6 754.8 1759.6 754.5 1755.6 754.1 1751.6 753.7 1747.6 753.4 1743.6 753.0 1739.7 752.7 1735.7 752.3 1731.7 751.9 1727.7 751.5 1723.7 751.1 1719.8 750.7 1715.8 750.3 1711.8 749.9 1707.8 749.4 1703.8 749.1 1699.9 748.7 1695.9 748.4 1691.9 748.1 1687.9 747.7 1683.9 747.5 1679.9 747.2 1675.9 746.9 1671.9 746.7 1667.9 746.4 1664.0 746.3 1660.0 746.1 1656.0 746.0 1652.0 746.0 1648.0 746.0 1644.0 746.0 1640.0 746.1 1636.0 746.2 1632.0 746.4 1628.0 746.6 1624.0 746.9 1620.0 747.1 1616.0 747.4 1612.0 747.7 1608.0 748.0 1604.0 748.3 1600.0 748.6 1596.1 749.0 1592.1 749.4 1588.1 749.9 1584.2 750.4 1580.2 751.0 1576.3 751.6 1572.3 752.3 1568.4 753.0 1564.4 753.8 1560.5 754.5 1556.6 755.2 1552.6 755.9 1548.7 756.6 1544.7 757.2 1540.8 757.8 1536.8 758.3 1532.9 758.9 1528.9 759.5 1524.9 760.0 1521.0 760.5 1517.0 760.9 1513.0 761.3 1509.0 761.7 1505.0 761.9 1501.1 762.2 1497.1 762.4 1493.1 762.5 1489.1 762.6 1485.1 762.6 1481.1 762.6 1477.1 762.6 1473.1 762.4 1469.1 762.3 1465.1 762.0 1461.1 761.7 1457.1 761.3 1453.1 760.8 1449.2 760.3 1445.2 759.7 1441.3 759.1 1437.3 758.5 1433.4 757.8 1429.4 757.1 1425.5 756.4 1421.6 755.8 1417.6 755.1 1413.7 754.4 1409.7 753.7 1405.8 753.0 1401.9 752.2 1397.9 751.5 1394.0 750.7 1390.1 749.9 1386.2 749.0 1382.3 748.1 1378.4 747.2 1374.5 746.2 1370.7 745.2 1366.8 744.2 1362.9 743.1 1359.1 742.0 1355.2 740.9 1351.4 739.8 1347.6 738.7 1343.7 737.6 1339.9 736.5 1336.0 735.4 1332.2 734.2 1328.4 733.0 1324.6 731.9 1320.7 730.9 1316.8 729.8 1313.0 728.8 1309.1 727.9 1305.2 727.1 1301.2 726.3 1297.3 725.7 1293.3 725.1 1289.4 724.6 1285.4 724.2 1281.4 723.8 1277.4 723.3 1273.5 722.9 1269.5 722.4 1265.5 721.9 1261.6 721.4 1257.6 720.7 1253.7 720.1 1249.7 719.5 1245.7 719.0 1241.8 718.5 1237.8 718.0 1233.8 717.6 1229.8 717.2 1225.9 716.9 1221.9 716.5 1217.9 716.2 1213.9 715.9 1209.9 715.6 1205.9 715.3 1201.9 715.0 1197.9 714.8 1193.9 714.5 1190.0 714.3 1186.0 714.0 1182.0 713.8 1178.0 713.6 1174.0 713.4 1170.0 713.2 1166.0 713.0 1162.0 712.9 1158.0 712.7 1154.0 712.6 1150.0 712.4 1146.0 712.3 1142.0 712.2 1138.0 712.1 1134.0 712.0 1130.0 711.9 1126.0 711.8 1122.0 711.7 1118.0 711.6 1114.0 711.6 1110.0 711.5 1106.0 711.4 1102.0 711.3 1098.0 711.2 1094.0 711.1 1090.0 711.0 1086.0 710.9 1082.0 710.8 1078.0 710.7 1074.0 710.5 1070.0 710.4 1066.0 710.2 1062.0 710.1 1058.0 710.0 1054.0 709.8 1050.0 709.7 1046.0 709.6 1042.0 709.4 1038.1 709.3 1034.1 709.2 1030.1 709.1 1026.1 709.0 1022.1 708.9 1018.1 708.8 1014.1 708.7 1010.1 708.7 1006.1 708.6 1002.1 708.5 998.1 708.5 994.1 708.4 990.1 708.4 986.1 708.4 982.1 708.3 978.1 708.3 974.1 708.3 970.1 708.2 966.1 708.2 962.1 708.2 958.1 708.2 954.1 708.1 950.1 708.1 946.1 708.1 942.1 708.1 938.1 708.1 934.1 708.0 930.1 708.0 926.1 708.0 922.1 708.0 918.1 708.0 914.1 708.0 910.1 708.0 906.1 708.0 902.1 708.0 898.1 708.0 894.1 708.0 890.1 708.0 886.1 708.0 882.1 708.0 878.1 708.0 874.1 708.0 870.1 708.0 866.1 708.0 862.1 708.0 858.1 708.0 854.1 708.0 850.1 708.0 846.1 708.0 842.1 708.0 838.1 708.0 834.1 708.0 830.1 708.0 826.1 708.1 822.1 708.1 818.1 708.1 814.1 708.1 810.1 708.1 806.1 708.1 802.1 708.2 798.1 708.2 794.1 708.2 790.1 708.2 786.1 708.2 782.1 708.3 778.1 708.3 774.1 708.3 770.1 708.3 766.1 708.4 762.1 708.4 758.1 708.4 754.1 708.4 750.1 708.5 746.1 708.5 742.1 708.5 738.1 708.6 734.1 708.6 730.1 708.6 726.1 708.7 722.1 708.7 718.1 708.8 714.1 708.8 710.1 708.9 706.1 708.9 702.1 709.0 698.1 709.0 694.1 709.1 690.1 709.3 686.1 709.5 682.1 709.9 678.2 710.4 674.3 710.9 670.3 711.4 666.3 711.8 662.3 712.2 658.4 712.6 654.4 713.0 650.4 713.4 646.4 713.8 642.4 714.2 638.5 714.5 634.5 714.9 630.5 715.3 626.5 715.8 622.5 716.2 618.6 716.6 614.6 717.1 610.6 717.6 606.7 718.2 602.7 718.8 598.8 719.4 594.8 720.1 590.9 720.8 587.0 721.6 583.1 722.4 579.2 723.4 575.4 724.5 571.6 725.8 567.8 727.2 564.1 728.7 560.4 730.2 556.8 731.9 553.2 733.6 549.6 735.4 546.0 737.2 542.4 738.9 538.8 740.6 535.2 742.3 531.5 743.9 527.9 745.6 524.3 747.3 520.6 749.0 517.0 750.7 513.4 752.4 509.8 754.1 506.2 755.8 502.5 757.5 498.9 759.2 495.3 760.9 491.7 762.7 488.2 764.5 484.7 766.5 481.3 768.6 478.1 770.9 475.0 773.4 471.9 776.0 469.0 778.7 466.0 781.4 463.0 784.1 460.1 786.8 457.2 789.6 454.5 792.4 451.8 795.4 449.1 798.4 446.4 801.4 443.8 804.4 441.4 807.5 439.1 810.8 437.2 814.3 435.5 817.9 434.0 821.6 432.5 825.3" fill="none" stroke="#0c0ca8" stroke-width="4.4" stroke-linejoin="round" stroke-linecap="round"/><path d="M433.0 782.5 433.9 778.6 434.9 774.7 435.9 770.9 436.9 767.0 437.9 763.1 439.1 759.3 440.4 755.5 441.8 751.8 443.4 748.1 445.1 744.5 446.8 740.9 448.7 737.4 450.8 734.0 453.0 730.6 455.3 727.4 457.8 724.3 460.4 721.3 463.2 718.4 466.1 715.7 469.2 713.1 472.4 710.7 475.7 708.5 479.1 706.5 482.7 704.8 486.4 703.2 490.2 702.0 494.0 700.9 497.9 700.0 501.8 699.2 505.7 698.5 509.7 697.9 513.7 697.3 517.6 696.9 521.6 696.6 525.6 696.4 529.6 696.2 533.6 696.1 537.6 696.0 541.6 695.9 545.6 695.8 549.6 695.8 553.6 695.9 557.6 695.9 561.6 696.0 565.6 696.0 569.6 696.0 573.6 695.9 577.6 695.9 581.6 695.8 585.6 695.7 589.6 695.6 593.6 695.5 597.6 695.4 601.6 695.4 605.6 695.3 609.6 695.2 613.6 695.1 617.6 695.0 621.6 695.0 625.6 694.9 629.5 694.8 633.5 694.8 637.5 694.7 641.5 694.6 645.5 694.6 649.5 694.5 653.5 694.4 657.5 694.4 661.5 694.3 665.5 694.3 669.5 694.2 673.5 694.2 677.5 694.2 681.5 694.1 685.5 694.1 689.5 694.1 693.5 694.0 697.5 694.0 701.5 694.0 705.5 694.0 709.5 694.0 713.5 694.0 717.5 694.0 721.5 693.9 725.5 693.9 729.5 693.9 733.5 693.9 737.5 693.9 741.5 693.9 745.5 693.9 749.5 693.9 753.5 694.0 757.5 694.0 761.5 694.0 765.5 694.0 769.5 694.0 773.5 694.0 777.5 694.0 781.5 694.0 785.5 694.0 789.5 694.0 793.5 694.0 797.5 694.0 801.5 694.0 805.5 694.0 809.5 694.0 813.5 694.0 817.5 694.0 821.5 694.0 825.5 694.0 829.5 694.0 833.5 694.0 837.5 694.0 841.5 694.0 845.5 694.0 849.5 694.0 853.5 694.0 857.5 694.0 861.5 694.0 865.5 694.0 869.5 693.9 873.5 693.9 877.5 693.9 881.5 693.9 885.5 693.9 889.5 693.9 893.5 693.8 897.5 693.8 901.5 693.8 905.5 693.8 909.4 693.7 913.4 693.7 917.4 693.7 921.4 693.7 925.4 693.7 929.4 693.6 933.4 693.6 937.4 693.6 941.4 693.6 945.4 693.6 949.4 693.5 953.4 693.5 957.4 693.5 961.4 693.5 965.4 693.5 969.4 693.5 973.4 693.5 977.4 693.5 981.4 693.5 985.4 693.5 989.4 693.5 993.4 693.5 997.4 693.5 1001.4 693.5 1005.4 693.5 1009.4 693.6 1013.4 693.6 1017.4 693.6 1021.4 693.6 1025.4 693.7 1029.4 693.7 1033.4 693.8 1037.4 693.8 1041.4 693.9 1045.4 693.9 1049.4 694.0 1053.4 694.0 1057.4 694.1 1061.4 694.1 1065.4 694.2 1069.4 694.2 1073.4 694.3 1077.4 694.4 1081.4 694.4 1085.4 694.5 1089.4 694.5 1093.4 694.6 1097.4 694.6 1101.4 694.7 1105.4 694.7 1109.4 694.8 1113.4 694.8 1117.4 694.9 1121.4 694.9 1125.4 694.9 1129.4 694.9 1133.4 695.0 1137.4 695.0 1141.4 695.0 1145.4 695.0 1149.4 695.0 1153.4 695.0 1157.4 695.0 1161.4 695.0 1165.4 694.9 1169.4 694.9 1173.4 694.9 1177.3 694.8 1181.3 694.8 1185.3 694.7 1189.3 694.7 1193.3 694.6 1197.3 694.6 1201.3 694.5 1205.3 694.5 1209.3 694.4 1213.3 694.3 1217.3 694.3 1221.3 694.2 1225.3 694.1 1229.3 694.0 1233.3 694.0 1237.3 693.9 1241.3 693.8 1245.3 693.7 1249.3 693.6 1253.3 693.6 1257.3 693.5 1261.3 693.4 1265.3 693.3 1269.3 693.2 1273.3 693.1 1277.3 693.1 1281.3 693.0 1285.3 692.9 1289.3 692.8 1293.3 692.7 1297.3 692.6 1301.3 692.5 1305.3 692.4 1309.3 692.3 1313.3 692.2 1317.3 692.1 1321.3 692.0 1325.3 691.9 1329.3 691.8 1333.3 691.7 1337.3 691.5 1341.3 691.4 1345.3 691.3 1349.3 691.2 1353.2 691.0 1357.2 690.9 1361.2 690.8 1365.2 690.7 1369.2 690.6 1373.2 690.4 1377.2 690.3 1381.2 690.2 1385.2 690.0 1389.2 689.8 1393.2 689.7 1397.2 689.4 1401.2 689.2 1405.2 688.9 1409.2 688.6 1413.1 688.2 1417.1 687.8 1421.1 687.4 1425.1 686.9 1429.0 686.4 1433.0 685.9 1437.0 685.4 1440.9 684.9 1444.9 684.3 1448.9 683.7 1452.8 683.1 1456.8 682.5 1460.7 681.8 1464.6 681.1 1468.6 680.4 1472.5 679.6 1476.4 678.7 1480.3 677.8 1484.2 676.8 1488.0 675.8 1491.9 674.8 1495.7 673.8 1499.6 672.7 1503.4 671.5 1507.2 670.4 1511.1 669.1 1514.9 667.9 1518.7 666.7 1522.5 665.4 1526.3 664.2 1530.1 663.1 1533.9 661.9 1537.8 660.8 1541.6 659.7 1545.5 658.7 1549.4 657.7 1553.2 656.8 1557.1 655.9 1561.1 655.0 1565.0 654.2 1568.9 653.4 1572.8 652.6 1576.7 651.8 1580.6 651.0 1584.6 650.4 1588.6 649.9 1592.5 649.6 1596.5 649.3 1600.5 649.2 1604.5 649.1 1608.5 649.0 1612.5 649.0 1616.5 649.0 1620.5 649.1 1624.5 649.1 1628.5 649.2 1632.5 649.1 1636.5 649.1 1640.5 649.0 1644.5 648.9 1648.5 648.8 1652.5 648.7 1656.5 648.5 1660.5 648.4 1664.5 648.3 1668.5 648.1 1672.5 647.9 1676.5 647.8 1680.5 647.6 1684.4 647.3 1688.4 647.1 1692.4 646.7 1696.4 646.3 1700.4 645.8 1704.3 645.2 1708.2 644.4 1712.1 643.4 1715.9 642.2 1719.6 640.8 1723.3 639.3 1727.1 637.9 1730.8 636.4 1734.5 635.0 1738.2 633.4 1741.9 631.9 1745.6 630.3 1749.3 628.8 1753.0 627.3 1756.7 625.7 1760.4 624.3 1764.1 622.8 1767.8 621.4 1771.6 620.0 1775.3 618.6 1779.1 617.2 1782.9 615.9 1786.6 614.6 1790.5 613.4 1794.3 612.3 1798.1 611.1 1802.0 610.1 1805.8 609.1 1809.7 608.1 1813.6 607.3 1817.6 606.5 1821.5 605.9 1825.5 605.4 1829.4 605.0 1833.4 604.6 1837.4 604.4 1841.4 604.2 1845.4 604.1 1849.4 604.1 1853.4 604.0 1857.4 604.0 1861.4 604.0 1865.4 604.0 1869.4 604.0 1873.4 604.0 1877.4 604.0 1881.4 604.0 1885.4 604.1 1889.4 604.1 1893.4 604.2 1897.4 604.3 1901.4 604.3 1905.4 604.4 1909.4 604.4 1913.4 604.5 1917.4 604.5 1921.4 604.6 1925.4 604.6 1929.4 604.6 1933.3 604.4 1937.2 603.7 1940.9 602.5 1944.4 600.8 1947.8 598.6 1950.9 596.2 1954.0 593.6 1957.0 591.0 L1957.0 591.0 1956.6 595.0 1956.1 599.0 1955.6 602.9 1955.2 606.9 1954.8 610.9 1954.4 614.9 1953.9 618.8 1953.5 622.8 1953.1 626.8 1952.6 630.8 1952.1 634.7 1951.5 638.7 1950.8 642.6 1950.1 646.6 1949.4 650.5 1948.5 654.4 1947.6 658.3 1946.6 662.2 1945.5 666.0 1944.1 669.8 1942.6 673.5 1940.9 677.0 1938.8 680.5 1936.5 683.7 1934.1 686.9 1931.4 689.8 1928.6 692.7 1925.6 695.3 1922.4 697.7 1919.1 699.9 1915.6 701.9 1912.0 703.6 1908.3 705.1 1904.6 706.4 1900.8 707.7 1897.0 709.0 1893.2 710.4 1889.5 711.7 1885.7 713.1 1881.9 714.4 1878.1 715.6 1874.3 716.7 1870.4 717.8 1866.5 718.8 1862.6 719.7 1858.7 720.3 1854.7 720.7 1850.7 720.9 1846.7 721.1 1842.7 721.2 1838.7 721.3 1834.7 721.4 1830.7 721.4 1826.7 721.5 1822.7 721.5 1818.7 721.5 1814.7 721.4 1810.7 721.4 1806.7 721.4 1802.7 721.3 1798.7 721.3 1794.7 721.2 1790.7 721.1 1786.7 721.1 1782.7 720.9 1778.7 720.8 1774.7 720.6 1770.7 720.4 1766.7 720.1 1762.7 719.8 1758.8 719.5 1754.8 719.1 1750.8 718.8 1746.8 718.5 1742.8 718.3 1738.8 718.0 1734.8 717.8 1730.8 717.5 1726.8 717.3 1722.8 717.1 1718.8 716.8 1714.8 716.6 1710.8 716.4 1706.8 716.2 1702.8 716.0 1698.8 715.8 1694.9 715.6 1690.9 715.4 1686.9 715.2 1682.9 715.0 1678.9 714.9 1674.9 714.7 1670.9 714.6 1666.9 714.4 1662.9 714.3 1658.9 714.2 1654.9 714.1 1650.9 714.0 1646.9 713.9 1642.9 713.8 1638.9 713.7 1634.9 713.7 1630.9 713.6 1626.9 713.6 1622.9 713.5 1618.9 713.5 1614.9 713.5 1610.8 713.5 1606.8 713.5 1602.8 713.5 1598.8 713.6 1594.8 713.7 1590.8 713.8 1586.8 714.0 1582.8 714.2 1578.9 714.4 1574.9 714.6 1570.9 714.9 1566.9 715.2 1562.9 715.5 1558.9 715.8 1554.9 716.2 1550.9 716.6 1547.0 717.0 1543.0 717.5 1539.0 718.0 1535.0 718.4 1531.1 718.9 1527.1 719.3 1523.1 719.6 1519.1 719.9 1515.1 720.2 1511.1 720.4 1507.1 720.6 1503.1 720.7 1499.1 720.9 1495.1 721.0 1491.1 721.1 1487.1 721.2 1483.1 721.3 1479.1 721.3 1475.1 721.4 1471.1 721.4 1467.1 721.5 1463.1 721.5 1459.1 721.5 1455.1 721.4 1451.1 721.4 1447.1 721.3 1443.1 721.2 1439.1 721.1 1435.1 720.9 1431.1 720.7 1427.1 720.4 1423.1 720.2 1419.1 719.9 1415.1 719.6 1411.1 719.3 1407.2 719.0 1403.2 718.6 1399.2 718.4 1395.2 718.1 1391.2 717.8 1387.2 717.5 1383.2 717.3 1379.2 717.0 1375.2 716.7 1371.2 716.4 1367.2 716.1 1363.3 715.8 1359.3 715.4 1355.3 715.1 1351.3 714.7 1347.3 714.2 1343.3 713.8 1339.4 713.3 1335.4 712.9 1331.4 712.4 1327.4 711.9 1323.5 711.4 1319.5 710.9 1315.5 710.5 1311.6 710.0 1307.6 709.5 1303.6 709.1 1299.6 708.7 1295.6 708.3 1291.7 707.9 1287.7 707.6 1283.7 707.3 1279.7 707.0 1275.7 706.8 1271.7 706.5 1267.7 706.3 1263.7 706.1 1259.7 706.0 1255.7 705.9 1251.7 705.8 1247.7 705.7 1243.7 705.6 1239.7 705.5 1235.7 705.5 1231.7 705.4 1227.7 705.4 1223.7 705.3 1219.7 705.3 1215.7 705.2 1211.7 705.2 1207.7 705.1 1203.7 705.1 1199.7 705.0 1195.7 704.9 1191.7 704.9 1187.7 704.8 1183.7 704.8 1179.7 704.7 1175.7 704.6 1171.7 704.6 1167.7 704.5 1163.7 704.5 1159.7 704.4 1155.7 704.4 1151.7 704.3 1147.7 704.2 1143.7 704.2 1139.7 704.1 1135.7 704.1 1131.7 704.0 1127.7 704.0 1123.7 703.9 1119.7 703.9 1115.7 703.8 1111.7 703.8 1107.7 703.7 1103.7 703.7 1099.7 703.6 1095.6 703.6 1091.6 703.5 1087.6 703.5 1083.6 703.4 1079.6 703.4 1075.6 703.3 1071.6 703.3 1067.6 703.2 1063.6 703.2 1059.6 703.2 1055.6 703.1 1051.6 703.1 1047.6 703.0 1043.6 703.0 1039.6 702.9 1035.6 702.9 1031.6 702.8 1027.6 702.8 1023.6 702.7 1019.6 702.7 1015.6 702.7 1011.6 702.6 1007.6 702.6 1003.6 702.5 999.6 702.5 995.6 702.5 991.6 702.4 987.6 702.4 983.6 702.3 979.6 702.3 975.6 702.3 971.6 702.2 967.6 702.2 963.6 702.2 959.6 702.1 955.6 702.1 951.6 702.0 947.6 702.0 943.6 702.0 939.6 701.9 935.6 701.9 931.6 701.9 927.6 701.9 923.6 701.8 919.6 701.8 915.6 701.8 911.6 701.7 907.6 701.7 903.6 701.7 899.6 701.7 895.6 701.7 891.6 701.6 887.6 701.6 883.6 701.6 879.6 701.6 875.6 701.6 871.6 701.6 867.6 701.5 863.6 701.5 859.6 701.5 855.6 701.5 851.6 701.5 847.5 701.5 843.5 701.5 839.5 701.5 835.5 701.5 831.5 701.5 827.5 701.5 823.5 701.5 819.5 701.5 815.5 701.5 811.5 701.5 807.5 701.5 803.5 701.5 799.5 701.5 795.5 701.5 791.5 701.5 787.5 701.5 783.5 701.5 779.5 701.5 775.5 701.5 771.5 701.6 767.5 701.6 763.5 701.6 759.5 701.6 755.5 701.6 751.5 701.6 747.5 701.6 743.5 701.7 739.5 701.7 735.5 701.7 731.5 701.7 727.5 701.8 723.5 701.8 719.5 701.8 715.5 701.8 711.5 701.9 707.5 701.9 703.5 702.0 699.5 702.0 695.5 702.1 691.5 702.1 687.5 702.2 683.5 702.3 679.5 702.4 675.5 702.5 671.5 702.6 667.5 702.8 663.5 703.0 659.5 703.2 655.5 703.4 651.5 703.7 647.5 703.9 643.5 704.2 639.5 704.5 635.5 704.9 631.6 705.3 627.6 705.7 623.6 706.2 619.6 706.7 615.7 707.1 611.7 707.5 607.7 707.9 603.7 708.3 599.7 708.7 595.7 709.1 591.8 709.5 587.8 709.8 583.8 710.3 579.8 710.8 575.9 711.6 572.0 712.4 568.1 713.4 564.3 714.4 560.4 715.5 556.5 716.4 552.6 717.4 548.7 718.3 544.8 719.1 540.9 719.9 537.0 720.8 533.1 721.6 529.2 722.6 525.3 723.6 521.5 724.8 517.7 726.1 514.0 727.4 510.2 728.8 506.5 730.3 502.8 731.8 499.1 733.3 495.5 735.0 491.9 736.8 488.5 738.9 485.1 741.0 481.8 743.2 478.5 745.5 475.1 747.7 471.7 749.8 468.4 751.9 465.0 754.1 461.7 756.3 458.3 758.4 454.8 760.3 451.3 762.2 447.9 764.2 444.7 766.5 441.9 769.3 439.4 772.4 437.1 775.6 435.0 779.0 433.0 782.5" fill="none" stroke="#e06a2e" stroke-width="4.4" stroke-linejoin="round" stroke-linecap="round"/><g stroke="#111" fill="none"><line x1="357.0" y1="40" x2="357.0" y2="1356.8" stroke-width="4.6"/><line x1="354.7" y1="1354.6" x2="2031.5" y2="1354.6" stroke-width="4.2"/><line x1="316.5" y1="120.4" x2="357.0" y2="120.4" stroke-width="4"/><line x1="316.5" y1="407.2" x2="357.0" y2="407.2" stroke-width="4"/><line x1="316.5" y1="694.1" x2="357.0" y2="694.1" stroke-width="4"/><line x1="316.5" y1="981.0" x2="357.0" y2="981.0" stroke-width="4"/><line x1="316.5" y1="1267.8" x2="357.0" y2="1267.8" stroke-width="4"/><line x1="432.3" y1="1354.6" x2="432.3" y2="1394" stroke-width="4"/><line x1="813.2" y1="1354.6" x2="813.2" y2="1394" stroke-width="4"/><line x1="1194.1" y1="1354.6" x2="1194.1" y2="1394" stroke-width="4"/><line x1="1575.0" y1="1354.6" x2="1575.0" y2="1394" stroke-width="4"/><line x1="1955.9" y1="1354.6" x2="1955.9" y2="1394" stroke-width="4"/></g><g font-family="'Liberation Sans', Arial, Helvetica, sans-serif" font-size="61" fill="#111"><text x="300.2" y="142.1" text-anchor="end">0.4</text><text x="300.2" y="428.9" text-anchor="end">0.2</text><text x="300.2" y="715.8" text-anchor="end">0.0</text><text x="300.2" y="1002.7" text-anchor="end">-0.2</text><text x="300.2" y="1289.5" text-anchor="end">-0.4</text><text x="432.3" y="1470.6" text-anchor="middle">-1.0</text><text x="813.2" y="1470.6" text-anchor="middle">-0.5</text><text x="1194.1" y="1470.6" text-anchor="middle">0.0</text><text x="1575.0" y="1470.6" text-anchor="middle">0.5</text><text x="1955.9" y="1470.6" text-anchor="middle">1.0</text></g><text x="809" y="1568" font-family="'Liberation Sans', Arial, Helvetica, sans-serif" font-size="72" fill="#111">Potential (V vs Ag/AgCl)</text><text transform="translate(114.6,1111) rotate(-90)" font-family="'Liberation Sans', Arial, Helvetica, sans-serif" font-size="72" fill="#111">Current Density (mA cm<tspan font-size="50" dy="-49">-2</tspan><tspan dy="49">)</tspan></text><line x1="463.6" y1="99.0" x2="566.6" y2="99.0" stroke="#0a0a0a" stroke-width="5.5"/><text x="591" y="115.5" font-family="'Liberation Sans', Arial, Helvetica, sans-serif" font-size="53" fill="#111">0.5 V s<tspan font-size="36" dy="-35.5" dx="2">-1</tspan></text><line x1="463.6" y1="181.6" x2="566.6" y2="181.6" stroke="#e0181f" stroke-width="5.5"/><text x="591" y="198.0" font-family="'Liberation Sans', Arial, Helvetica, sans-serif" font-size="53" fill="#111">0.2 V s<tspan font-size="36" dy="-35.5" dx="2">-1</tspan></text><line x1="463.6" y1="263.6" x2="566.6" y2="263.6" stroke="#0c0ca8" stroke-width="5.5"/><text x="591" y="280.0" font-family="'Liberation Sans', Arial, Helvetica, sans-serif" font-size="53" fill="#111">0.1 V s<tspan font-size="36" dy="-35.5" dx="2">-1</tspan></text><line x1="463.6" y1="345.0" x2="566.6" y2="345.0" stroke="#e06a2e" stroke-width="5.5"/><text x="591" y="361.5" font-family="'Liberation Sans', Arial, Helvetica, sans-serif" font-size="53" fill="#111">0.05 V s<tspan font-size="36" dy="-35.5" dx="2">-1</tspan></text><text x="1044" y="87" font-family="'Liberation Sans', Arial, Helvetica, sans-serif" font-size="54" fill="#111">Localized States</text><line x1="1178.3" y1="120.7" x2="1377.7" y2="952.2" stroke="#000" stroke-width="3.2"/><polygon points="1387.5,993.0 1366.1,952.9 1388.4,947.5" fill="#000"/><line x1="1254.7" y1="112.9" x2="1495.0" y2="198.1" stroke="#000" stroke-width="3.2"/><polygon points="1535.5,212.5 1489.4,207.8 1496.8,187.1" fill="#000"/><line x1="465" y1="1226" x2="1747" y2="1226" stroke="#000" stroke-width="3.6"/><polygon points="423,1226 469,1214.5 469,1237.5" fill="#000"/><polygon points="1789,1226 1743.5,1214.5 1743.5,1237.5" fill="#000"/><rect x="401.3" y="1114" width="4.3" height="200.6" fill="#111"/><rect x="1803" y="1104" width="4" height="201" fill="#333"/><text x="1014.8" y="1293.3" font-family="'Liberation Sans', Arial, Helvetica, sans-serif" font-size="53" fill="#111">E<tspan font-size="37" dy="13">g</tspan><tspan dy="-13" x="1081.5">(1.9 eV)</tspan></text></svg>
</body></html>
